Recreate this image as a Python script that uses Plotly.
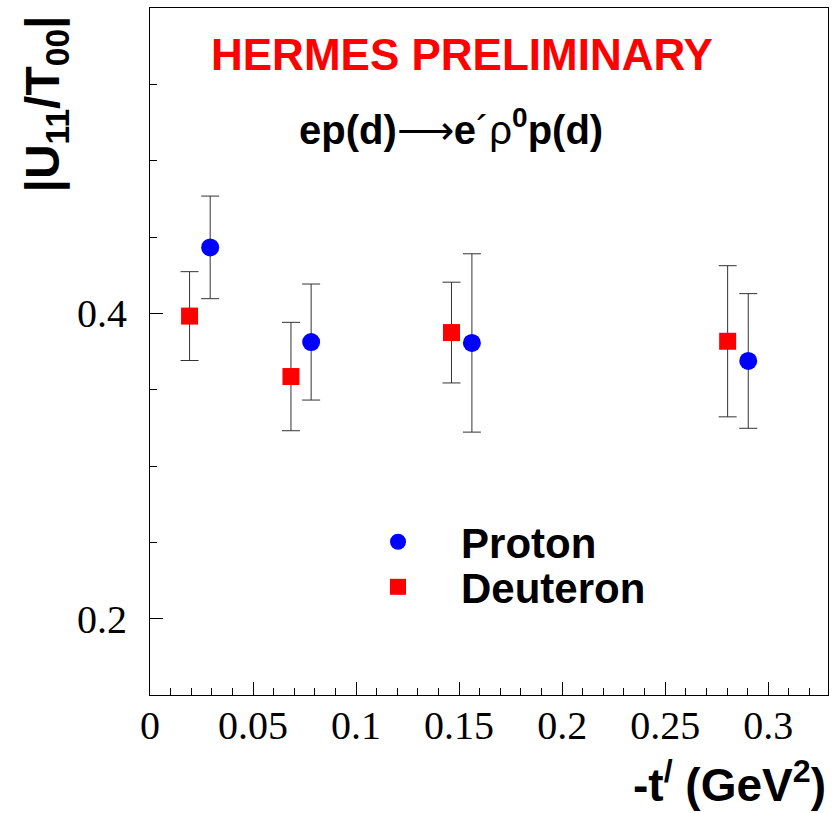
import plotly.graph_objects as go

# Data
proton_t = [0.0292, 0.0782, 0.1562, 0.2903]
proton_val = [0.4432, 0.3812, 0.3806, 0.3688]
proton_err = [0.0336, 0.0380, 0.0584, 0.0441]

deut_t = [0.0192, 0.0684, 0.1463, 0.2803]
deut_val = [0.3982, 0.3586, 0.3874, 0.3817]
deut_err = [0.0291, 0.0355, 0.0330, 0.0495]

x_ticks = [0, 0.05, 0.1, 0.15, 0.2, 0.25, 0.3]
x_ticklabels = ["0", "0.05", "0.1", "0.15", "0.2", "0.25", "0.3"]
y_ticks = [0.2, 0.4]
y_ticklabels = ["0.2", "0.4"]

fig = go.Figure()
fig.add_trace(go.Scatter(
    x=proton_t, y=proton_val, mode="markers", name="<b>Proton</b>", legend="legend",
    marker=dict(symbol="circle", size=18, color="#0000ff"),
    error_y=dict(type="data", array=proton_err, color="#333333", thickness=1, width=9),
))
fig.add_trace(go.Scatter(
    x=deut_t, y=deut_val, mode="markers", name="<b>Deuteron</b>", legend="legend2",
    marker=dict(symbol="square", size=17, color="#ff0000"),
    error_y=dict(type="data", array=deut_err, color="#333333", thickness=1, width=9),
))

tickfont = dict(family="Liberation Serif", size=40, color="black")

fig.update_xaxes(
    range=[0, 0.329], tickvals=x_ticks, ticktext=x_ticklabels,
    ticks="inside", ticklen=13, tickwidth=1, tickcolor="black",
    showline=True, linecolor="black", linewidth=1, mirror=True,
    showgrid=False, zeroline=False, tickfont=tickfont, ticklabelstandoff=-5,
    minor=dict(dtick=0.01, tick0=0, ticks="inside", ticklen=7, tickcolor="black", showgrid=False),
)
fig.update_yaxes(
    range=[0.15, 0.6], tickvals=y_ticks, ticktext=y_ticklabels,
    ticks="inside", ticklen=13, tickwidth=1, tickcolor="black",
    showline=True, linecolor="black", linewidth=1, mirror=True,
    showgrid=False, zeroline=False, tickfont=tickfont, ticklabelstandoff=14,
    minor=dict(dtick=0.05, tick0=0, ticks="inside", ticklen=7, tickcolor="black", showgrid=False),
)

bold = "Liberation Sans"
fig.add_annotation(
    text="<b>HERMES PRELIMINARY</b>", xref="paper", yref="paper",
    x=0.460, y=0.9316, xanchor="center", yanchor="middle", showarrow=False,
    font=dict(family=bold, size=44, color="#ff0000"),
)
fig.add_annotation(
    text="<b>ep(d)</b>⟶<b>e</b>´ρ<b><sup>0</sup>p(d)</b>", xref="paper", yref="paper",
    x=0.444, y=0.827, xanchor="center", yanchor="middle", showarrow=False,
    font=dict(family=bold, size=40, color="black"),
)
fig.add_annotation(
    text="<b>|U<sub>11</sub>/T<sub>00</sub>|</b>", xref="paper", yref="paper",
    x=0, y=1, xshift=-105, yshift=-6, xanchor="center", yanchor="top", textangle=-90,
    showarrow=False, font=dict(family=bold, size=48, color="black"),
)
fig.add_annotation(
    text="<b>-t<sup>/</sup> (GeV<sup>2</sup>)</b>", xref="paper", yref="paper",
    x=1, y=0, yshift=-87, xanchor="right", yanchor="middle",
    showarrow=False, font=dict(family=bold, size=46, color="black"),
)

legfont = dict(family=bold, size=42, color="black")
fig.update_layout(
    width=832, height=813,
    margin=dict(l=150, r=4, t=8, b=118),
    paper_bgcolor="white", plot_bgcolor="white",
    showlegend=True,
    legend=dict(
        x=0.2729, y=0.2228, xanchor="left", yanchor="middle",
        font=legfont, itemwidth=116, bgcolor="rgba(0,0,0,0)",
    ),
    legend2=dict(
        x=0.2729, y=0.1572, xanchor="left", yanchor="middle",
        font=legfont, itemwidth=116, bgcolor="rgba(0,0,0,0)",
    ),
)

fig.write_html("out.html")
